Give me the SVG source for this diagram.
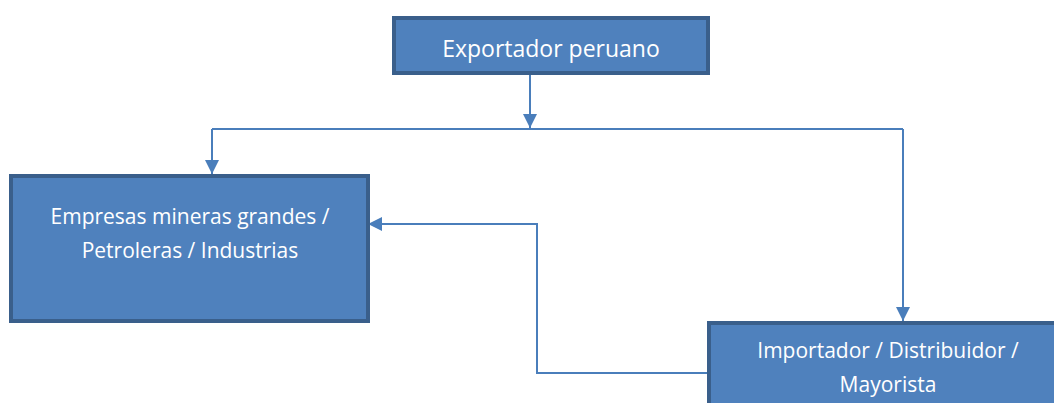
<svg xmlns="http://www.w3.org/2000/svg" width="1054" height="403" viewBox="0 0 1054 403">
<style>
.box{fill:#4f81bd;stroke:#3a5f8b;stroke-width:4}
.lbl{font-family:"Open Sans","Liberation Sans",sans-serif;font-size:21px;fill:#ffffff;text-anchor:middle}
.title{font-size:23px}
.conn{fill:none;stroke:#4a7ebb;stroke-width:2}
</style>
<defs>
<marker id="arr" viewBox="0 0 14 14" refX="14" refY="7" markerWidth="14" markerHeight="14" markerUnits="userSpaceOnUse" orient="auto">
<path d="M0,0 L14,7 L0,14 Z" fill="#4a7ebb"/>
</marker>
</defs>
<rect width="1054" height="403" fill="#ffffff"/>
<g id="connectors">
<path class="conn" d="M530,74 V128" marker-end="url(#arr)"/>
<path class="conn" d="M212,129 H903"/>
<path class="conn" d="M212,129 V174" marker-end="url(#arr)"/>
<path class="conn" d="M903,129 V321" marker-end="url(#arr)"/>
<path class="conn" d="M707,373 H537 V224 H368" marker-end="url(#arr)"/>
</g>
<g id="exportador">
<rect class="box" x="394" y="18" width="314" height="55"/>
<text class="lbl title" x="551" y="57">Exportador peruano</text>
</g>
<g id="empresas">
<rect class="box" x="11" y="176" width="357" height="145"/>
<text class="lbl" x="190" y="224">Empresas mineras grandes /</text>
<text class="lbl" x="190" y="258">Petroleras / Industrias</text>
</g>
<g id="importador">
<rect class="box" x="709" y="323" width="360" height="100"/>
<text class="lbl" x="888" y="358">Importador / Distribuidor /</text>
<text class="lbl" x="888" y="392">Mayorista</text>
</g>
</svg>
